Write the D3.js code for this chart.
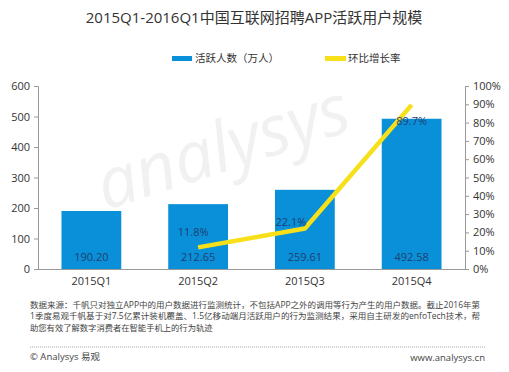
<!DOCTYPE html>
<html><head><meta charset="utf-8">
<script src="https://cdn.jsdelivr.net/npm/d3@7"></script>
<style>
body{margin:0;background:#fff;}
text{font-family:"Open Sans","Noto Sans CJK SC",sans-serif;}
</style></head>
<body><svg id="c" width="509" height="372"></svg>
<script>
const categories = ["2015Q1","2015Q2","2015Q3","2015Q4"];
const activeUsers = [190.20, 212.65, 259.61, 492.58];
const growthCats = ["2015Q2","2015Q3","2015Q4"];
const growthRate = [11.8, 22.1, 89.7];
const leftTicks = [0,100,200,300,400,500,600];
const rightTicks = [0,10,20,30,40,50,60,70,80,90,100];
const title = "2015Q1-2016Q1中国互联网招聘APP活跃用户规模";
const legendNames = ["活跃人数（万人）","环比增长率"];
const noteLines = [
 "数据来源：千帆只对独立APP中的用户数据进行监测统计，不包括APP之外的调用等行为产生的用户数据。截止2016年第",
 "1季度易观千帆基于对7.5亿累计装机覆盖、1.5亿移动端月活跃用户的行为监测结果，采用自主研发的enfoTech技术，帮",
 "助您有效了解数字消费者在智能手机上的行为轨迹"
];

const svg = d3.select("#c");
const L=38, R=465, T=86, B=269;
const x = d3.scaleBand().domain(categories).range([L,R]).paddingInner(0.44).paddingOuter(0.22);
const y = d3.scaleLinear().domain([0,600]).range([B,T]);
const y2 = d3.scaleLinear().domain([0,100]).range([B,T]);
const blue="#0a90d8", yellow="#f7e01a", lab="#1d3f73";

// watermark
svg.append("text").attr("x",230).attr("y",170).attr("text-anchor","middle")
  .attr("transform","rotate(-18,230,170)")
  .attr("font-size",70).attr("font-style","italic")
  .attr("fill","#000").attr("opacity",0.05).text("analysys");

svg.append("text").attr("x",254).attr("y",23).attr("text-anchor","middle")
  .attr("font-size",15).attr("fill","#333").text(title);

// legend
svg.append("rect").attr("x",172).attr("y",56).attr("width",20).attr("height",5).attr("fill",blue);
svg.append("text").attr("x",195).attr("y",62).attr("font-size",10.5).attr("fill","#333").text(legendNames[0]);
svg.append("rect").attr("x",325).attr("y",56).attr("width",21).attr("height",5).attr("fill",yellow);
svg.append("text").attr("x",348).attr("y",62).attr("font-size",10.5).attr("fill","#333").text(legendNames[1]);

// bars
svg.selectAll(".bar").data(activeUsers).enter().append("rect")
  .attr("x",(d,i)=>x(categories[i])).attr("width",x.bandwidth())
  .attr("y",d=>y(d)).attr("height",d=>B-y(d)).attr("fill",blue);

// axes
const gl = svg.append("g").attr("transform",`translate(${L},0)`)
  .call(d3.axisLeft(y).tickValues(leftTicks).tickSize(4).tickPadding(4));
const gr = svg.append("g").attr("transform",`translate(${R},0)`)
  .call(d3.axisRight(y2).tickValues(rightTicks).tickSize(4).tickPadding(4).tickFormat(d=>d+"%"));
const gb = svg.append("g").attr("transform",`translate(0,${B})`)
  .call(d3.axisBottom(x).tickSize(0).tickPadding(8));
[gl,gr].forEach(g=>{g.selectAll("path,line").attr("stroke","#999");});
gb.select("path").attr("stroke","#999").attr("d",`M${L},0.5H${R}`);
[gl,gr,gb].forEach(g=>g.selectAll("text").attr("font-size",11).attr("fill","#333").attr("font-family",'"Open Sans",sans-serif'));

// line
const line = d3.line().x((d,i)=>x(growthCats[i])+x.bandwidth()/2).y(d=>y2(d));
svg.append("path").datum(growthRate).attr("d",line).attr("fill","none")
  .attr("stroke",yellow).attr("stroke-width",4.5).attr("stroke-linejoin","round");

// value labels
svg.selectAll(".vl").data(activeUsers).enter().append("text")
  .attr("x",(d,i)=>x(categories[i])+x.bandwidth()/2).attr("y",261)
  .attr("text-anchor","middle").attr("font-size",11).attr("fill",lab).text(d=>d.toFixed(2));
const dx=[-5,-14,0], dy=[-11,-3,20];
svg.selectAll(".gl").data(growthRate).enter().append("text")
  .attr("x",(d,i)=>x(growthCats[i])+x.bandwidth()/2+dx[i]).attr("y",(d,i)=>y2(d)+dy[i])
  .attr("text-anchor","middle").attr("font-size",11).attr("fill",lab).text(d=>d.toFixed(1)+"%");

// notes
noteLines.forEach((t,i)=>svg.append("text").attr("x",30).attr("y",308+i*11.3)
  .attr("font-size",8.3).attr("fill","#444").attr("textLength",i<2?450:null)
  .attr("lengthAdjust","spacingAndGlyphs").text(t));
svg.append("line").attr("x1",30).attr("x2",485).attr("y1",347).attr("y2",347)
  .attr("stroke","#aaa").attr("stroke-dasharray","1,1");
svg.append("text").attr("x",30).attr("y",360).attr("font-size",9.5).attr("fill","#444").text("© Analysys 易观");
svg.append("text").attr("x",485).attr("y",361).attr("text-anchor","end").attr("font-size",9.5).attr("fill","#444").text("www.analysys.cn");
</script></body></html>
